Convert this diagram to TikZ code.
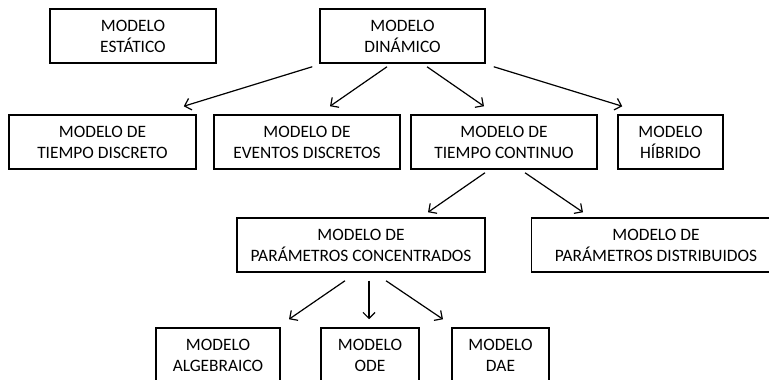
\documentclass[tikz,border=0pt]{standalone}
\usepackage{fontspec}
\setmainfont{Carlito}
\usepackage{tikz}
\usetikzlibrary{shapes,arrows.meta}
\tikzset{
  block/.style    = {draw, line width=1.5pt, rectangle, align=center, minimum height = 54pt, font=\fontsize{17.4}{21}\selectfont},
  link/.style     = {->, line width=1.2pt}
}

\begin{document}
\begin{tikzpicture}[auto, x=1pt, y=1pt, node distance=100pt, >={Straight Barb[length=6pt,width=12pt]}]
\useasboundingbox (0,0) rectangle (769,380);
\clip (0,0) rectangle (769,380);

% Top row
\draw node [block, minimum width=165pt] at (402.5,344) (din) {MODELO\\DINÁMICO};
\draw node [block, minimum width=166pt, left of=din, node distance=269.5pt] (est) {MODELO\\ESTÁTICO};

% Second row
\draw node [block, minimum width=187pt, below of=est, node distance=106pt, xshift=-30.5pt] (tdis) {MODELO DE\\TIEMPO DISCRETO};
\draw node [block, minimum width=186pt, right of=tdis, node distance=204.5pt] (evd) {MODELO DE\\EVENTOS DISCRETOS};
\draw node [block, minimum width=186pt, right of=evd, node distance=197pt] (tcon) {MODELO DE\\TIEMPO CONTINUO};
\draw node [block, minimum width=105pt, right of=tcon, node distance=166.5pt] (hib) {MODELO\\HÍBRIDO};

% Third row
\draw node [block, minimum width=248pt, below of=tcon, node distance=103pt, xshift=-143pt] (conc) {MODELO DE\\PARÁMETROS CONCENTRADOS};
\draw node [block, minimum width=249pt, right of=conc, node distance=295pt] (dist) {MODELO DE\\PARÁMETROS DISTRIBUIDOS};

% Bottom row
\draw node [block, minimum width=98pt, below of=conc, node distance=110pt, xshift=9pt] (ode) {MODELO\\ODE};
\draw node [block, minimum width=124pt, left of=ode, node distance=152pt] (alg) {MODELO\\ALGEBRAICO};
\draw node [block, minimum width=97pt, right of=ode, node distance=130.5pt] (dae) {MODELO\\DAE};

% Connections
\draw[link] ([shift={(-7,-3)}]din.south west) -- ([shift={(-13,8)}]tdis.north east);
\draw[link] ([shift={(-15.5,-3)}]din.south) -- ([shift={(23,8)}]evd.north);
\draw[link] ([shift={(24.5,-3)}]din.south) -- ([shift={(-20,8)}]tcon.north);
\draw[link] ([shift={(8,-3)}]din.south east) -- ([shift={(5,8)}]hib.north west);
\draw[link] ([shift={(-19,-3)}]tcon.south) -- ([shift={(67,5)}]conc.north);
\draw[link] ([shift={(21,-3)}]tcon.south) -- ([shift={(-73,5)}]dist.north);
\draw[link] ([shift={(-16,-8)}]conc.south) -- ([shift={(71,8)}]alg.north);
\draw[link] ([shift={(8,-8)}]conc.south) -- ([shift={(-1,8)}]ode.north);
\draw[link] ([shift={(25,-8)}]conc.south) -- ([shift={(-57.5,8)}]dae.north);

\end{tikzpicture}
\end{document}
